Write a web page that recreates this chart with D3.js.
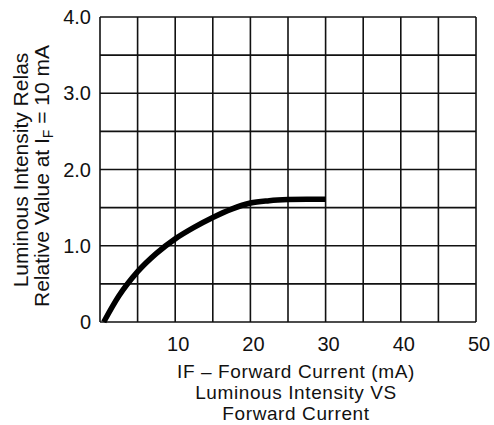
<!DOCTYPE html>
<html><head><meta charset="utf-8">
<script src="https://cdn.jsdelivr.net/npm/d3@7"></script>
<style>
html,body{margin:0;padding:0;background:#fff;}
text{font-family:"Liberation Sans",Arial,Helvetica,sans-serif;fill:#111;}
</style></head>
<body>
<script>
const currentMA = [0.5, 2.5, 5, 7.5, 10, 12.5, 15, 17.5, 20, 22.5, 25, 27.5, 30];
const relIntensity = [0, 0.34, 0.66, 0.90, 1.09, 1.24, 1.37, 1.48, 1.56, 1.59, 1.605, 1.61, 1.61];
const xTickValues = [10, 20, 30, 40, 50];
const yTickValues = [0, 1, 2, 3, 4];
const yTickLabels = ["0", "1.0", "2.0", "3.0", "4.0"];
const xGrid = [0,5,10,15,20,25,30,35,40,45,50];
const yGrid = [0,0.5,1,1.5,2,2.5,3,3.5,4];
const xTitleLines = ["IF \u2013 Forward Current (mA)", "Luminous Intensity VS", "Forward Current"];

const W = 494, H = 425;
const m = {left:100, right:18, top:17, bottom:103};
const svg = d3.select("body").append("svg").attr("width", W).attr("height", H);
const x = d3.scaleLinear().domain([0,50]).range([m.left, W - m.right]);
const y = d3.scaleLinear().domain([0,4]).range([H - m.bottom, m.top]);

const g = svg.append("g");
g.selectAll("line.vx").data(xGrid).join("line")
  .attr("x1", d=>x(d)).attr("x2", d=>x(d)).attr("y1", y(0)).attr("y2", y(4))
  .attr("stroke", "#111").attr("stroke-width", 1.6);
g.selectAll("line.hy").data(yGrid).join("line")
  .attr("x1", x(0)).attr("x2", x(50)).attr("y1", d=>y(d)).attr("y2", d=>y(d))
  .attr("stroke", "#111").attr("stroke-width", 1.6);

// x tick labels
svg.selectAll("text.xt").data(xTickValues).join("text")
  .attr("x", d=>x(d) + 3).attr("y", y(0) + 29)
  .attr("text-anchor", "middle").attr("font-size", 20).text(d=>d);
// y tick labels
svg.selectAll("text.yt").data(yTickValues).join("text")
  .attr("x", x(0) - 9).attr("y", d=>y(d)).attr("dy", "0.36em")
  .attr("text-anchor", "end").attr("font-size", 20).text((d,i)=>yTickLabels[i]);

// curve
const line = d3.line().x((d,i)=>x(currentMA[i])).y(d=>y(d)).curve(d3.curveMonotoneX);
svg.append("path").datum(relIntensity).attr("d", line)
  .attr("fill", "none").attr("stroke", "#000").attr("stroke-width", 5.5)
  .attr("stroke-linecap", "butt");

// x title
svg.selectAll("text.xtitle").data(xTitleLines).join("text")
  .attr("x", 296).attr("y", (d,i)=>377.6 + i*21.2)
  .attr("text-anchor", "middle").attr("font-size", 19)
  .attr("letter-spacing", "0.6px").text(d=>d);

// y title
const yt = svg.append("g").attr("transform", "translate(0,172) rotate(-90)");
yt.append("text").attr("x", 2).attr("y", 28).attr("text-anchor", "middle")
  .attr("font-size", 21).text("Luminous Intensity Relas");
const t2 = yt.append("text").attr("x", -4).attr("y", 49).attr("text-anchor", "middle").attr("font-size", 21);
t2.append("tspan").text("Relative Value at I");
t2.append("tspan").attr("font-size", 14).attr("dy", 4).text("F");
t2.append("tspan").attr("dy", -4).text(" = 10 mA");
</script>
</body></html>
